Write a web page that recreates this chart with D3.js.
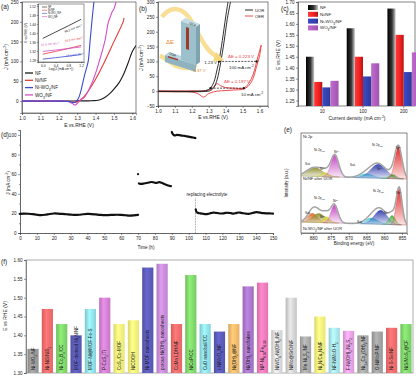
<!DOCTYPE html>
<html><head><meta charset="utf-8">
<script src="https://cdn.jsdelivr.net/npm/d3@7"></script>
<style>body{margin:0;background:#fff}svg{display:block}text{font-family:"Liberation Sans",Arial,sans-serif}</style>
</head><body><svg id="c" width="416" height="378"></svg>
<script>
// ---------------- DATA ----------------
// (a) LSV curves  [E (V), J (mA cm-2)]
const a_NF    = [[1.0,0],[1.2,0],[1.3,0.5],[1.38,1],[1.42,3],[1.45,9],[1.48,20],[1.50,30],[1.53,48],[1.55,65],[1.58,100],[1.60,125],[1.62,140]];
const a_NiNF  = [[1.0,0],[1.2,0],[1.25,-0.5],[1.28,-3],[1.30,-2],[1.32,4],[1.335,10],[1.36,25],[1.40,55],[1.45,100],[1.50,150],[1.55,200],[1.555,210]];
const a_NiWO3 = [[1.0,0],[1.2,0],[1.26,-1],[1.28,-4],[1.29,-3],[1.30,2],[1.31,10],[1.32,25],[1.33,45],[1.34,65],[1.35,82],[1.36,100],[1.37,150],[1.38,200],[1.39,245],[1.395,262]];
const a_WO3   = [[1.0,0],[1.2,0],[1.25,-1],[1.28,-8],[1.29,-10],[1.30,-6],[1.32,3],[1.34,10],[1.37,35],[1.40,70],[1.42,100],[1.45,150],[1.47,200],[1.48,212],[1.49,225],[1.50,232],[1.51,248],[1.515,256]];
const a_series = ["NF","Ni/NF","Ni-WO_{3}/NF","WO_{3}/NF"];
// (a) inset Tafel lines [log J, E]
const t_NF    = [[0,1.376],[0.4,1.404],[0.8,1.432],[1.2,1.461]];
const t_NiNF  = [[0,1.306],[0.4,1.318],[0.8,1.331],[1.2,1.345]];
const t_NiWO3 = [[0,1.284],[0.4,1.29],[0.8,1.297],[1.2,1.304]];
const t_WO3   = [[0,1.318],[0.4,1.324],[0.8,1.331],[1.2,1.338]];
const t_slopes = ["98.3 mV dec^{-1}","49.3 mV dec^{-1}","19.5 mV dec^{-1}","31.5 mV dec^{-1}"];
// (b) UOR / OER CV curves
const b_UOR1 = [[1.0,0],[1.25,0],[1.28,2],[1.30,6],[1.31,10],[1.33,30],[1.35,75],[1.36,100],[1.38,170],[1.40,250],[1.415,305]];
const b_UOR2 = [[1.0,-1],[1.28,-1],[1.31,2],[1.33,12],[1.35,40],[1.37,95],[1.39,165],[1.41,245],[1.43,305]];
const b_OERf = [[1.0,1],[1.2,1],[1.30,3],[1.33,15],[1.35,25],[1.37,18],[1.40,12],[1.45,10],[1.50,9],[1.52,15],[1.55,40],[1.57,70],[1.583,100],[1.60,135],[1.61,155]];
const b_OERb = [[1.61,155],[1.60,118],[1.58,78],[1.56,40],[1.53,15],[1.50,6],[1.45,4],[1.40,2],[1.35,0],[1.30,-8],[1.27,-20],[1.24,-10],[1.20,-3],[1.10,-2],[1.0,-2]];
const b_marks100 = [1.36,1.583];
const b_marks10  = [1.31,1.507];
// (c) potentials at current densities
const c_cats  = ["10","100","200"];
const c_names = ["NF","Ni/NF","Ni-WO_{3}/NF","WO_{3}/NF"];
const c_NF    = [1.45,1.58,1.67];
const c_NiNF  = [1.335,1.45,1.55];
const c_NiWO3 = [1.31,1.36,1.38];
const c_WO3   = [1.34,1.42,1.47];
// (d) chronoamperometry
const d_t1 = [0,2.5,5,7.5,10,12.5,15,17.5,20,22.5,25,27.5,30,32.5,35,37.5,40,42.5,45,47.5,50,52.5,55,57.5,60,62.5,65,67.5,70];
const d_j1 = [19.5,19.8,19.6,19.2,18.6,18.2,18.6,19.4,19.9,19.8,19.4,19.1,18.8,18.4,18.6,19.1,19.4,19.3,18.9,18.5,18.2,18.3,18.5,18.6,18.4,18.1,17.8,18.0,18.4];
const d_spike = [70,60];
const d_t2 = [70.5,72,73.5,75,76.5,78,79.5,81,82.5,84,85.5,87,88.5,89.5];
const d_j2 = [50.5,50,50.5,51,51.5,52,51.5,51,51.8,51.2,50,49,48.2,47.8];
const d_t3 = [90,90.5,91.5,93,94.5,96,97.5,99,100.5,102,103.5,104];
const d_j3 = [103,101,99.5,100,99.8,99.3,99,98.5,98,97.5,97,96.8];
const d_t4 = [104.2,104.6,105.5,107,108.5,110,111.5,113,114.5,116,117.5,119,120.5,122,123.5,125,126.5,128,129.5,131,132.5,134,135.5,137,138.5,140,141.5,143,144.5,146,147.5,149,150];
const d_j4 = [24,21.5,20.5,20,19.6,19.3,19.5,20.2,20.8,20.6,20.2,19.9,20,20.5,20.6,20.2,19.8,20.3,20.9,20.6,20.1,19.7,19.5,20,20.7,21.2,21,20.6,20.3,20.1,20,19.9,19.8];
const d_replace = 104;
// (e) XPS Ni 2p fitted components: [centre eV, height, sigma]
const e_top_base = [57,54];
const e_top_peaks = [[879.6,9,2.2],[876.6,4,1.2],[873.9,22,1.1],[865,4,2.0],[861.6,14,2.2],[857.6,4,1.0],[856.0,32,1.0]];
const e_bot_base = [11,8];
const e_bot_peaks = [[880.2,9,1.4],[878.4,9,1.8],[876.2,6,1.0],[874.0,18,1.0],[863.6,6,1.8],[861.0,14,1.8],[857.8,9,0.9],[855.8,37,0.8]];
// (f) comparison of UOR catalysts
const f_labels = ["Ni-WO_{3}/NF","Ni-NiS/NiS_{2}","Ni-Co_{2}B_{x}/CC","MOF-derived Ni_{3}N/NF","MOF-Ni@MOF-Fe-S","P-CoS_{2}/Ti","CoS_{2}/Co-MOF","NiCOOH","Ni-MOF nanosheets","porous Ni(OH)_{2} nanosheets","CoMn LDH/NF","NiCoP/CC","CuO nanoball/CC","r-NiMoO_{4}/NF","Ni(OH)_{2}@NF","Ni(OH)_{2} nanoflakes","NP-Ni_{0.70}Fe_{0.30}","NiWO_{4}-Ni(OH)_{2}/NF","NiMo@SrO/NF","Mn-Ni_{3}S_{2}/NF","Ni_{3}N/Cu_{3}N/NF","NF/NiMoO-H_{2}","F-Ni(OH)_{2}/Ni_{3}S_{2}","Ni_{1-x}Co_{x}(OH)_{2}/NF","O-NiMoP/NF","Ni-S-Se/NF","NiS/MoS_{2}@CF"];
const f_values = [1.364,1.47,1.43,1.40,1.47,1.50,1.43,1.44,1.58,1.59,1.43,1.56,1.43,1.41,1.43,1.53,1.54,1.414,1.50,1.397,1.45,1.42,1.412,1.40,1.41,1.42,1.43];
const f_colors = ["#9a9a9a","#f26b6b","#7ed46a","#5a5ab8","#8fdde6","#cf7fcf","#f5f27a","#f5f27a","#5a5ab8","#c58ad6","#f26b6b","#7ed46a","#8fdde6","#5a5ab8","#f5b86a","#a875c8","#f07ab8","#d8d8d8","#cfcfcf","#a8a8a8","#f5f27a","#a6e3ea","#e6a0e0","#a8a8a8","#a0a0a0","#f26b6b","#7ed46a"];

// ---------------- HELPERS ----------------
const svg = d3.select("#c");
const defs = svg.append("defs");
const INK = "#222";
function rich(sel, s){
  const re=/([_^])\{([^}]*)\}/g; let last=0,m;
  while((m=re.exec(s))){
    if(m.index>last) sel.append("tspan").text(s.slice(last,m.index));
    sel.append("tspan").attr("baseline-shift",m[1]==="_"?"sub":"super").attr("font-size","70%").text(m[2]);
    last=re.lastIndex;
  }
  if(last<s.length) sel.append("tspan").text(s.slice(last));
  return sel;
}
function txt(x,y,s,o={}){
  const t=svg.append("text").attr("x",x).attr("y",y).attr("font-size",o.fs||5).attr("fill",o.fill||INK)
    .attr("text-anchor",o.anchor||"start");
  if(o.rot!==undefined) t.attr("transform",`rotate(${o.rot},${x},${y})`);
  return rich(t,s);
}
function styleAxis(g,fs){
  g.selectAll("text").attr("font-size",fs||4.6).attr("fill",INK).attr("font-family","Liberation Sans, Arial");
  g.selectAll("path,line").attr("stroke","#333").attr("stroke-width",0.5);
  return g;
}
function hgrad(id,stops){
  const g=defs.append("linearGradient").attr("id",id).attr("x1",0).attr("x2",1).attr("y1",0).attr("y2",0);
  stops.forEach(s=>g.append("stop").attr("offset",s[0]).attr("stop-color",s[1]));
}
function vgrad(id,color){
  const g=defs.append("linearGradient").attr("id",id).attr("x1",0).attr("x2",0).attr("y1",0).attr("y2",1);
  g.append("stop").attr("offset",0).attr("stop-color",color).attr("stop-opacity",0.95);
  g.append("stop").attr("offset",1).attr("stop-color",color).attr("stop-opacity",0.12);
}
function clip(id,x,y,w,h){defs.append("clipPath").attr("id",id).append("rect").attr("x",x).attr("y",y).attr("width",w).attr("height",h);}
const COL={black:"#1a1a1a",red:"#e8393a",blue:"#3a4bd0",mag:"#d44fc8"};

// ---------------- PANEL (a) ----------------
{
  const x=d3.scaleLinear([1.0,1.62],[22,136]), y=d3.scaleLinear([-30,250],[113,2]);
  clip("ca",22,2,114,111);
  svg.append("rect").attr("x",22).attr("y",2).attr("width",114).attr("height",111).attr("fill","none").attr("stroke","#333").attr("stroke-width",0.6);
  styleAxis(svg.append("g").attr("transform","translate(0,113)").call(d3.axisBottom(x).tickValues([1.0,1.1,1.2,1.3,1.4,1.5,1.6]).tickFormat(d3.format(".1f")).tickSize(2).tickPadding(1.5)));
  styleAxis(svg.append("g").attr("transform","translate(22,0)").call(d3.axisLeft(y).tickValues([0,50,100,150,200,250]).tickSize(2).tickPadding(1.5)));
  const line=d3.line().x(d=>x(d[0])).y(d=>y(d[1])).curve(d3.curveCatmullRom);
  const g=svg.append("g").attr("clip-path","url(#ca)");
  [[a_NF,COL.black],[a_NiNF,COL.red],[a_WO3,COL.mag],[a_NiWO3,COL.blue]].forEach(([d,c])=>g.append("path").attr("d",line(d)).attr("fill","none").attr("stroke",c).attr("stroke-width",1.1));
  txt(8,57,"J (mA cm^{-2})",{rot:-90,anchor:"middle",fs:5});
  txt(79,127,"E vs.RHE (V)",{anchor:"middle",fs:5});
  txt(1,9,"(a)",{fs:6.5});
  const lc=[COL.black,COL.red,COL.blue,COL.mag];
  a_series.forEach((s,i)=>{const yy=73+i*7.3;
    svg.append("line").attr("x1",25).attr("x2",33).attr("y1",yy).attr("y2",yy).attr("stroke",lc[i]).attr("stroke-width",1.3);
    txt(35,yy+1.8,s,{fs:4.6});});
  // inset
  const ix=d3.scaleLinear([-0.15,1.29],[38,84]), iy=d3.scaleLinear([1.271,1.529],[62,4]);
  svg.append("rect").attr("x",38).attr("y",4).attr("width",46).attr("height",58).attr("fill","#fff").attr("stroke","#333").attr("stroke-width",0.5);
  styleAxis(svg.append("g").attr("transform","translate(0,62)").call(d3.axisBottom(ix).tickValues([0,0.4,0.8,1.2]).tickFormat(d3.format(".1f")).tickSize(1.2).tickPadding(1)),3.3);
  styleAxis(svg.append("g").attr("transform","translate(38,0)").call(d3.axisLeft(iy).tickValues([1.28,1.32,1.36,1.40,1.44,1.48,1.52]).tickFormat(d3.format(".2f")).tickSize(1.2).tickPadding(1)),3.3);
  const il=d3.line().x(d=>ix(d[0])).y(d=>iy(d[1]));
  [[t_NF,COL.black],[t_NiNF,COL.red],[t_NiWO3,COL.blue],[t_WO3,COL.mag]].forEach(([d,c])=>svg.append("path").attr("d",il(d)).attr("fill","none").attr("stroke",c).attr("stroke-width",0.8));
  txt(27,33,"E vs.RHE (V)",{rot:-90,anchor:"middle",fs:3.3});
  txt(61,69.5,"Log(J (mA cm^{-2}))",{anchor:"middle",fs:3.3});
  ["NF","Ni/NF","Ni-WO_{3}/NF","WO_{3}/NF"].forEach((s,i)=>{const yy=7+i*3.2;
    svg.append("line").attr("x1",42).attr("x2",47).attr("y1",yy).attr("y2",yy).attr("stroke",lc[i]).attr("stroke-width",0.6);
    txt(48,yy+1,s,{fs:2.6});});
  txt(65,33,t_slopes[0],{fs:3,rot:-22});
  txt(65,42,t_slopes[1],{fs:3,fill:COL.red,rot:-10});
  txt(66,57,t_slopes[2],{fs:3,fill:COL.blue,rot:-8});
  txt(41,46,t_slopes[3],{fs:3,fill:COL.mag,rot:-6});
}

// ---------------- PANEL (b) ----------------
{
  const x=d3.scaleLinear([1.0,1.65],[158,268]), y=d3.scaleLinear([-50,300],[106,2]);
  clip("cb",158,2,110,104);
  svg.append("rect").attr("x",158).attr("y",2).attr("width",110).attr("height",104).attr("fill","none").attr("stroke","#333").attr("stroke-width",0.6);
  styleAxis(svg.append("g").attr("transform","translate(0,106)").call(d3.axisBottom(x).tickValues([1.0,1.1,1.2,1.3,1.4,1.5,1.6]).tickFormat(d3.format(".1f")).tickSize(2).tickPadding(1.5)));
  styleAxis(svg.append("g").attr("transform","translate(158,0)").call(d3.axisLeft(y).tickValues([-50,0,50,100,150,200,250,300]).tickSize(2).tickPadding(1.5)));
  txt(143,58,"J (mA cm^{-2})",{rot:-90,anchor:"middle",fs:5});
  txt(213,119,"E vs.RHE (V)",{anchor:"middle",fs:5});
  txt(139,11,"(b)",{fs:6.5});
  const line=d3.line().x(d=>x(d[0])).y(d=>y(d[1])).curve(d3.curveCatmullRom);
  const g=svg.append("g").attr("clip-path","url(#cb)");
  [[b_OERf,COL.red],[b_OERb,COL.red],[b_UOR1,COL.black],[b_UOR2,COL.black]].forEach(([d,c])=>g.append("path").attr("d",line(d)).attr("fill","none").attr("stroke",c).attr("stroke-width",0.9));
  [[b_marks100,100],[b_marks10,10]].forEach(([m,v])=>{
    svg.append("line").attr("x1",x(m[0])).attr("x2",x(m[1])).attr("y1",y(v)).attr("y2",y(v)).attr("stroke","#111").attr("stroke-width",0.7).attr("stroke-dasharray","2,1.2");
    m.forEach(e=>svg.append("rect").attr("x",x(e)-1).attr("y",y(v)-1).attr("width",2).attr("height",2).attr("fill","#111"));
  });
  txt(217,64,"1.23 V",{anchor:"end",fs:4.4});
  txt(228,58,"ΔE = 0.223 V",{fill:COL.red,fs:4.4});
  txt(229,69,"100 mA cm^{-2}",{fs:4.4});
  txt(224,83,"ΔE = 0.197 V",{fill:COL.red,fs:4.4});
  txt(241,96,"10 mA cm^{-2}",{fs:4.4});
  [["UOR","#111"],["OER",COL.red]].forEach((l,i)=>{const yy=10+i*6;
    svg.append("line").attr("x1",245).attr("x2",253).attr("y1",yy).attr("y2",yy).attr("stroke",l[1]).attr("stroke-width",0.9);
    txt(255,yy+1.6,l[0],{fs:4.2});});
  // schematic inset
  const sg=svg.append("g");
  const yel="#f6d77a";
  sg.append("path").attr("d","M162,17 C172,4 184,8 192,22 S206,52 218,57").attr("fill","none").attr("stroke",yel).attr("stroke-width",4.5).attr("opacity",0.8);
  sg.append("path").attr("d","M216,52 L224,60 L213,62 Z").attr("fill",yel);
  sg.append("path").attr("d","M160,56 C168,58 176,72 192,67").attr("fill","none").attr("stroke",yel).attr("stroke-width",4.5).attr("opacity",0.8);
  sg.append("path").attr("d","M190,62 L198,66 L191,71 Z").attr("fill",yel);
  sg.append("path").attr("d","M165,55 L169,52 L200,62 L196,65 Z").attr("fill","#b9d5de");
  sg.append("path").attr("d","M165,55 L196,65 L196,72 L165,62 Z").attr("fill","#8fb3bf");
  sg.append("path").attr("d","M181,21 L185,18 L200,24 L196,27 Z").attr("fill","#c4dde5");
  sg.append("path").attr("d","M181,21 L196,27 L196,65 L181,60 Z").attr("fill","#9cc0cc");
  sg.append("path").attr("d","M196,27 L200,24 L200,62 L196,65 Z").attr("fill","#7fa4b0");
  sg.append("path").attr("d","M186,27 L189,28 L189,50 L186,49 Z").attr("fill","#a03a2a");
  sg.append("path").attr("d","M168,56 L178,59 L178,60.5 L168,57.5 Z").attr("fill","#a03a2a");
  txt(189,24,"OER",{fs:3.2,rot:25});
  txt(169,54,"UOR",{fs:3.2,rot:25});
  txt(166,44,"ΔE",{fill:"#e88a2a",fs:6});
  txt(193,72,"0.37 V",{fill:"#e88a2a",fs:4.4});
}

// ---------------- PANEL (c) ----------------
{
  const y=d3.scaleLinear([1.225,1.70],[106,2]);
  const x0=d3.scaleBand(c_cats,[306,420]).paddingInner(0.2).paddingOuter(0);
  const x1=d3.scaleBand([0,1,2,3],[0,x0.bandwidth()]);
  svg.append("rect").attr("x",298).attr("y",2).attr("width",117).attr("height",104).attr("fill","none").attr("stroke","#333").attr("stroke-width",0.6);
  hgrad("gc0",[[0,"#000"],[0.55,"#333"],[1,"#c8c8c8"]]);
  hgrad("gc1",[[0,"#ff3a3a"],[0.6,"#ee2020"],[1,"#b51515"]]);
  hgrad("gc2",[[0,"#3c4cc6"],[1,"#2c3a9a"]]);
  hgrad("gc3",[[0,"#c06ccc"],[1,"#a054b0"]]);
  const ser=[c_NF,c_NiNF,c_NiWO3,c_WO3];
  ser.forEach((s,k)=>s.forEach((v,i)=>{
    svg.append("rect").attr("x",x0(c_cats[i])+x1(k)).attr("width",x1.bandwidth()).attr("y",y(v)).attr("height",106-y(v)).attr("fill",`url(#gc${k})`);
  }));
  styleAxis(svg.append("g").attr("transform","translate(298,0)").call(d3.axisLeft(y).tickValues(d3.range(1.25,1.7001,0.05)).tickFormat(d3.format(".2f")).tickSize(2).tickPadding(1.5)));
  const xa=svg.append("g").attr("transform","translate(0,106)").call(d3.axisBottom(x0).tickSize(2).tickPadding(2));
  styleAxis(xa); xa.select(".domain").remove();
  txt(280,55,"E vs.RHE (V)",{rot:-90,anchor:"middle",fs:5});
  txt(357,120,"Current density (mA cm^{-2})",{anchor:"middle",fs:5});
  txt(281,11,"(c)",{fs:6.5});
  c_names.forEach((n,k)=>{const yy=5+k*6.8;
    svg.append("rect").attr("x",308).attr("y",yy).attr("width",10).attr("height",5).attr("fill",`url(#gc${k})`);
    txt(320,yy+4,n,{fs:4.4});});
}

// ---------------- PANEL (d) ----------------
{
  const x=d3.scaleLinear([0,150],[20,273]), y=d3.scaleLinear([0,105],[233,130]);
  styleAxis(svg.append("g").attr("transform","translate(0,233)").call(d3.axisBottom(x).tickValues(d3.range(0,151,10)).tickSize(2).tickPadding(1.5)));
  styleAxis(svg.append("g").attr("transform","translate(0,233)").call(d3.axisBottom(x).tickValues(d3.range(5,150,10)).tickSize(1).tickFormat("")));
  styleAxis(svg.append("g").attr("transform","translate(20,0)").call(d3.axisLeft(y).tickValues([0,20,40,60,80,100]).tickSize(2).tickPadding(1.5)));
  styleAxis(svg.append("g").attr("transform","translate(20,0)").call(d3.axisLeft(y).tickValues([10,30,50,70,90]).tickSize(1).tickFormat("")));
  const line=d3.line().x(d=>x(d[0])).y(d=>y(d[1])).curve(d3.curveCatmullRom);
  [[d_t1,d_j1],[d_t2,d_j2],[d_t3,d_j3],[d_t4,d_j4]].forEach(([t,j])=>{
    svg.append("path").attr("d",line(t.map((v,i)=>[v,j[i]]))).attr("fill","none").attr("stroke","#111").attr("stroke-width",2.2).attr("stroke-linecap","round");
  });
  svg.append("circle").attr("cx",x(d_spike[0])).attr("cy",y(d_spike[1])).attr("r",1.1).attr("fill","#111");
  svg.append("line").attr("x1",x(d_replace)).attr("x2",x(d_replace)).attr("y1",y(0)).attr("y2",y(36)).attr("stroke","#444").attr("stroke-width",0.6).attr("stroke-dasharray","0.8,0.8");
  txt(207,196,"replacing electrolyte",{anchor:"middle",fs:4.6});
  txt(10,183,"J (mA cm^{-2})",{rot:-90,anchor:"middle",fs:4.6});
  txt(146,249,"Time (h)",{anchor:"middle",fs:4.6});
  txt(1,137,"(d)",{fs:6.5});
}

// ---------------- PANEL (e) ----------------
{
  const x=d3.scaleLinear([883.4,853.6],[301,407]), y=d3.scaleLinear([0,100],[233,133]);
  clip("ce",301,133,106,100);
  svg.append("rect").attr("x",301).attr("y",133).attr("width",106).attr("height",100).attr("fill","none").attr("stroke","#333").attr("stroke-width",0.6);
  styleAxis(svg.append("g").attr("transform","translate(0,233)").call(d3.axisBottom(x).tickValues([880,875,870,865,860,855]).tickSize(2).tickPadding(1.5)));
  const pcol=[["#8c8c2c","#d2d23a","#c23fc0","#3cc4d6","#2f3cb0","#36b036","#e01c1c"],
              ["#e0601c","#8c8c2c","#d8d81e","#c23fc0","#3cc4d6","#2f3cb0","#36b036","#e01c1c"]];
  [...new Set(pcol.flat())].forEach(c=>vgrad("ge"+c.slice(1),c));
  const gauss=(b,p)=>p[1]*Math.exp(-0.5*((b-p[0])/p[2])**2);
  const grid=d3.range(883.4,853.6,-0.2);
  const g=svg.append("g").attr("clip-path","url(#ce)");
  [[e_top_base,e_top_peaks,pcol[0]],[e_bot_base,e_bot_peaks,pcol[1]]].forEach(([bs,pk,pc])=>{
    const base=b=>bs[0]+(bs[1]-bs[0])*(883.4-b)/(883.4-853.6);
    pk.forEach((p,i)=>{
      const pts=grid.filter(b=>Math.abs(b-p[0])<3.2*p[2]);
      g.append("path").attr("d",d3.area().x(b=>x(b)).y0(b=>y(base(b))).y1(b=>y(base(b)+gauss(b,p)))(pts))
        .attr("fill",`url(#ge${pc[i].slice(1)})`).attr("stroke",pc[i]).attr("stroke-width",0.3);
    });
    const env=grid.map(b=>[b,base(b)+d3.sum(pk,p=>gauss(b,p))]);
    g.append("path").attr("d",d3.line().x(d=>x(d[0])).y(d=>y(d[1]))(env)).attr("fill","none").attr("stroke","#bdbdbd").attr("stroke-width",1.6);
    g.append("path").attr("d",d3.line().x(d=>x(d[0])).y(d=>y(d[1]))(env)).attr("fill","none").attr("stroke","#666").attr("stroke-width",0.35);
    g.append("path").attr("d",d3.line().x(b=>x(b)).y(b=>y(base(b)))(grid)).attr("fill","none").attr("stroke","#999").attr("stroke-width",0.3);
  });
  txt(288,183,"Intensity (a.u.)",{rot:-90,anchor:"middle",fs:4.6});
  txt(354,245,"Binding energy (eV)",{anchor:"middle",fs:4.6});
  txt(284,132,"(e)",{fs:6.5});
  txt(303,138,"Ni 2p",{fs:4});
  txt(303,180,"Ni/NF after UOR",{fs:4});
  txt(303,230,"Ni-WO_{3}/NF after UOR",{fs:4});
  const L=(xx,yy,s)=>txt(xx,yy,s,{fs:3.2});
  L(314,151,"Ni 2p_{1/2}"); L(334,153,"Ni^{3+}"); L(372,146,"Ni 2p_{3/2}"); L(396,149,"Ni^{2+}");
  L(305,165,"Sat."); L(320,170,"Ni^{3+}"); L(350,166,"Sat."); L(377,170,"Ni^{3+}");
  L(314,199,"Ni 2p_{1/2}"); L(333,202,"Ni^{2+}"); L(373,192,"Ni 2p_{3/2}"); L(396,194,"Ni^{2+}");
  L(305,214,"Sat."); L(320,218,"Ni^{3+}"); L(357,223,"Sat."); L(384,214,"Ni^{3+}");
}

// ---------------- PANEL (f) ----------------
{
  const y=d3.scaleLinear([1.30,1.60],[373,260]);
  const x=d3.scaleBand(d3.range(f_labels.length),[26,413]).paddingInner(0.22).paddingOuter(0.1);
  svg.append("rect").attr("x",26).attr("y",260).attr("width",387).attr("height",113).attr("fill","none").attr("stroke","#777").attr("stroke-width",0.6);
  f_colors.forEach((c,i)=>{
    const cc=d3.color(c);
    hgrad("gf"+i,[[0,cc.darker(0.35).formatHex()],[0.4,cc.brighter(0.35).formatHex()],[1,cc.darker(0.15).formatHex()]]);
  });
  f_values.forEach((v,i)=>{
    svg.append("rect").attr("x",x(i)).attr("width",x.bandwidth()).attr("y",y(v)).attr("height",373-y(v)).attr("fill",`url(#gf${i})`);
  });
  f_labels.forEach((s,i)=>{
    const cx=x(i)+x.bandwidth()/2+1.7;
    const t=svg.append("text").attr("transform",`translate(${cx},370) rotate(-90)`).attr("font-size",4.5).attr("fill","#1a1a1a");
    rich(t,s);
  });
  styleAxis(svg.append("g").attr("transform","translate(26,0)").call(d3.axisLeft(y).tickValues(d3.range(1.30,1.6001,0.05)).tickFormat(d3.format(".2f")).tickSize(2).tickPadding(1.5)));
  txt(7,316,"E vs RHE (V)",{rot:-90,anchor:"middle",fs:5});
  txt(1,264,"(f)",{fs:6.5});
}
</script></body></html>
